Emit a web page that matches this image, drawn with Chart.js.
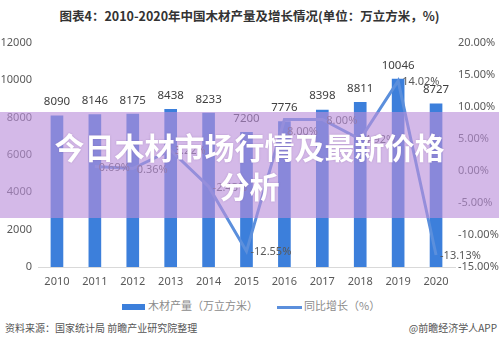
<!DOCTYPE html>
<html>
<head>
<meta charset="utf-8">
<script src="https://cdn.jsdelivr.net/npm/chart.js@4.4.1/dist/chart.umd.min.js"></script>
<style>
  body { margin: 0; width: 499px; height: 343px; background: #fff; position: relative; overflow: hidden;
         font-family: "Noto Sans CJK SC", "Noto Sans", sans-serif; }
  .title { position: absolute; top: 6px; left: 0; width: 499px; text-align: center; font-size: 12.5px;
           font-weight: bold; color: #333; }
  .wrap { position: absolute; top: 30px; left: 0; width: 499px; height: 265px; }
  .legend { position: absolute; top: 297px; left: 0; width: 499px; font-size: 11px; color: #8c8c8c; }
  .legend span { position: absolute; white-space: nowrap; }
  .box { position: absolute; left: 122px; top: 7px; width: 23px; height: 6px; background: #3c7fdb; }
  .ln { position: absolute; left: 277px; top: 9px; width: 25px; height: 3px; background: #5b8fdc; }
  .foot { position: absolute; top: 320px; font-size: 10px; color: #555; white-space: nowrap; }
  .banner { position: absolute; left: 0; top: 112px; width: 499px; height: 106px;
            background: rgba(186, 142, 218, 0.62); color: #fff; text-align: center;
            font-size: 30px; font-weight: bold; line-height: 39px; padding-top: 15px; box-sizing: border-box;
            text-shadow: 0 0 2px rgba(120,80,150,0.4); }
</style>
</head>
<body>
<div class="title">图表4：2010-2020年中国木材产量及增长情况(单位：万立方米，%)</div>
<div class="wrap"><canvas id="chart" width="499" height="265"></canvas></div>
<div class="legend">
  <div class="box"></div><span style="left:148px;top:0">木材产量（万立方米）</span>
  <div class="ln"></div><span style="left:304px;top:0">同比增长（%）</span>
</div>
<div class="foot" style="left:5px">资料来源：国家统计局 前瞻产业研究院整理</div>
<div class="foot" style="right:2px">@前瞻经济学人APP</div>
<div class="banner">今日木材市场行情及最新价格<br>分析</div>
<script>
const years = ['2010', '2011', '2012', '2013', '2014', '2015', '2016', '2017', '2018', '2019', '2020'];
const output = [8090, 8146, 8175, 8438, 8233, 7200, 7776, 8398, 8811, 10046, 8727];
const growth = [null, 0.69, 0.36, 3.22, -2.43, -12.55, 8.00, 8.00, 4.92, 14.02, -13.13];

// подписи значений над столбиками и у точек линии
const labelsPlugin = {
  id: 'labels',
  afterDatasetsDraw(chart) {
    const c = chart.ctx;
    c.save();
    c.font = '11.5px "Noto Sans", sans-serif';
    chart.getDatasetMeta(0).data.forEach((bar, i) => {
      c.fillStyle = '#404040';
      c.textAlign = 'center';
      c.textBaseline = 'bottom';
      c.fillText(output[i], bar.x, bar.y - 8);
    });
    c.font = '11px "Noto Sans", sans-serif';
    chart.getDatasetMeta(1).data.forEach((pt, i) => {
      if (growth[i] === null) return;
      c.fillStyle = '#595959';
      c.textBaseline = 'middle';
      const txt = growth[i].toFixed(2) + '%';
      if (i === 6) {
        c.textAlign = 'center';
        c.fillText(txt, pt.x + 18, pt.y + 12);
      } else {
        c.textAlign = 'left';
        c.fillText(txt, pt.x + 4, pt.y + 1);
      }
    });
    c.restore();
  }
};

const ctx = document.getElementById('chart').getContext('2d');
new Chart(ctx, {
  data: {
    labels: years,
    datasets: [{
      type: 'bar',
      data: output,
      backgroundColor: '#3c7fdb',
      barThickness: 12,
      yAxisID: 'y',
      order: 2
    }, {
      type: 'line',
      data: growth,
      borderColor: '#5b8fdc',
      borderWidth: 3,
      pointRadius: 0,
      tension: 0,
      yAxisID: 'y1',
      order: 1
    }]
  },
  options: {
    responsive: false,
    animation: false,
    layout: { padding: { top: 10, bottom: 0, left: 0, right: 0 } },
    plugins: { legend: { display: false }, tooltip: { enabled: false } },
    scales: {
      x: {
        grid: { display: false, drawTicks: false },
        border: { color: '#d9d9d9' },
        ticks: { color: '#595959', font: { size: 11, family: '"Noto Sans", sans-serif' }, padding: 8, maxRotation: 0 },
        afterFit(s) { s.height = 28; }
      },
      y: {
        position: 'left', min: 0, max: 12000,
        grid: { display: false, drawTicks: false },
        border: { display: false },
        ticks: { stepSize: 2000, color: '#595959', font: { size: 11, family: '"Noto Sans", sans-serif' }, padding: 6,
                 callback: v => String(v) },
        afterFit(s) { s.width = 38; }
      },
      y1: {
        position: 'right', min: -15, max: 20,
        grid: { display: false, drawTicks: false },
        border: { display: false },
        ticks: { stepSize: 5, color: '#595959', font: { size: 11, family: '"Noto Sans", sans-serif' }, padding: 3,
                 callback: v => v.toFixed(2) + '%' },
        afterFit(s) { s.width = 44; }
      }
    }
  },
  plugins: [labelsPlugin]
});
</script>
</body>
</html>
